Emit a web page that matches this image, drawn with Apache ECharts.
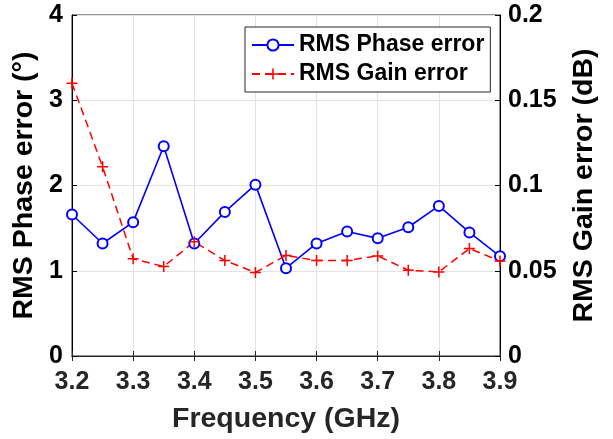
<!DOCTYPE html>
<html>
<head>
<meta charset="utf-8">
<script src="https://cdn.jsdelivr.net/npm/echarts@6/dist/echarts.min.js"></script>
<style>
  html, body { margin: 0; padding: 0; background: #fff; }
  #chart { width: 613px; height: 439px; }
</style>
</head>
<body>
<div id="chart"></div>
<script>
// Frequency sweep (GHz)
const freqs = [3.2, 3.25, 3.3, 3.35, 3.4, 3.45, 3.5, 3.55, 3.6, 3.65, 3.7, 3.75, 3.8, 3.85, 3.9];
// RMS phase error (degrees), left axis
const phaseErr = [1.66, 1.32, 1.57, 2.46, 1.32, 1.69, 2.01, 1.03, 1.32, 1.46, 1.38, 1.51, 1.76, 1.45, 1.17];
// RMS gain error (dB), right axis
const gainErr = [0.160, 0.111, 0.057, 0.0525, 0.067, 0.056, 0.049, 0.059, 0.056, 0.056, 0.0587, 0.0503, 0.0493, 0.063, 0.0557];

const phaseName = 'RMS Phase error';
const gainName = 'RMS Gain error';
const xTitle = 'Frequency (GHz)';
const yLeftTitle = 'RMS Phase error (\u00B0)';
const yRightTitle = 'RMS Gain error (dB)';

const FONT = "'Liberation Sans', Arial, sans-serif";
const DARK = '#262626';

const chart = echarts.init(document.getElementById('chart'), null, { renderer: 'canvas' });

const plusPath = 'path://M0,4.3H10V5.7H0Z M4.3,0H5.7V10H4.3Z';

chart.setOption({
  animation: false,
  backgroundColor: '#fff',
  grid: {
    left: 72, right: 113, top: 15, bottom: 82,
    show: true, borderColor: DARK, borderWidth: 1, backgroundColor: 'transparent'
  },
  legend: {
    left: 245, top: 27,
    orient: 'vertical',
    backgroundColor: '#fff',
    borderColor: DARK, borderWidth: 1, borderRadius: 0,
    padding: [5, 6, 5, 6],
    itemWidth: 42, itemHeight: 14, itemGap: 3,
    textStyle: { fontFamily: FONT, fontWeight: 'bold', fontSize: 23, color: '#000', lineHeight: 26 },
    data: [phaseName, gainName]
  },
  xAxis: [{
    type: 'value', min: 3.2, max: 3.9, interval: 0.1,
    position: 'bottom',
    name: xTitle, nameLocation: 'middle', nameGap: 49,
    nameTextStyle: { fontFamily: FONT, fontWeight: 'bold', fontSize: 28.5, color: DARK },
    axisLine: { show: true, lineStyle: { color: DARK, width: 1 } },
    axisTick: { show: true, inside: true, length: 5, lineStyle: { color: DARK } },
    axisLabel: {
      fontFamily: FONT, fontWeight: 'bold', fontSize: 25, color: DARK, margin: 14,
      formatter: v => v.toFixed(1)
    },
    splitLine: { show: true, lineStyle: { color: '#e3e3e3', width: 1 } }
  }, {
    type: 'value', min: 3.2, max: 3.9, interval: 0.1,
    position: 'top',
    axisLine: { show: true, lineStyle: { color: DARK, width: 1 } },
    axisTick: { show: true, inside: true, length: 5, lineStyle: { color: DARK } },
    axisLabel: { show: false },
    splitLine: { show: false }
  }],
  yAxis: [{
    type: 'value', min: 0, max: 4, interval: 1,
    position: 'left',
    name: yLeftTitle, nameLocation: 'middle', nameGap: 25, nameRotate: 90,
    nameTextStyle: { fontFamily: FONT, fontWeight: 'bold', fontSize: 28.5, color: '#000' },
    axisLine: { show: true, lineStyle: { color: '#000', width: 1 } },
    axisTick: { show: true, inside: true, length: 5, lineStyle: { color: '#000' } },
    axisLabel: { fontFamily: FONT, fontWeight: 'bold', fontSize: 25, color: '#000', margin: 9 },
    splitLine: { show: true, lineStyle: { color: '#e3e3e3', width: 1 } }
  }, {
    type: 'value', min: 0, max: 0.2, interval: 0.05,
    position: 'right',
    name: yRightTitle, nameLocation: 'middle', nameGap: 70, nameRotate: 90,
    nameTextStyle: { fontFamily: FONT, fontWeight: 'bold', fontSize: 28.5, color: '#000' },
    axisLine: { show: true, lineStyle: { color: '#000', width: 1 } },
    axisTick: { show: true, inside: true, length: 5, lineStyle: { color: '#000' } },
    axisLabel: { fontFamily: FONT, fontWeight: 'bold', fontSize: 25, color: '#000', margin: 8 },
    splitLine: { show: false }
  }],
  series: [{
    name: phaseName,
    type: 'line',
    xAxisIndex: 0, yAxisIndex: 0,
    data: freqs.map((f, i) => [f, phaseErr[i]]),
    symbol: 'emptyCircle', symbolSize: 10,
    showAllSymbol: true,
    lineStyle: { color: '#0000ff', width: 1.6 },
    itemStyle: { color: '#0000ff', borderColor: '#0000ff', borderWidth: 1.5 },
    emphasis: { disabled: true }
  }, {
    name: gainName,
    type: 'line',
    xAxisIndex: 0, yAxisIndex: 1,
    data: freqs.map((f, i) => [f, gainErr[i]]),
    symbol: plusPath, symbolSize: 11,
    showAllSymbol: true,
    lineStyle: { color: '#ff0000', width: 1.5, type: [8, 5] },
    itemStyle: { color: '#ff0000', borderWidth: 0 },
    emphasis: { disabled: true }
  }]
});
</script>
</body>
</html>
